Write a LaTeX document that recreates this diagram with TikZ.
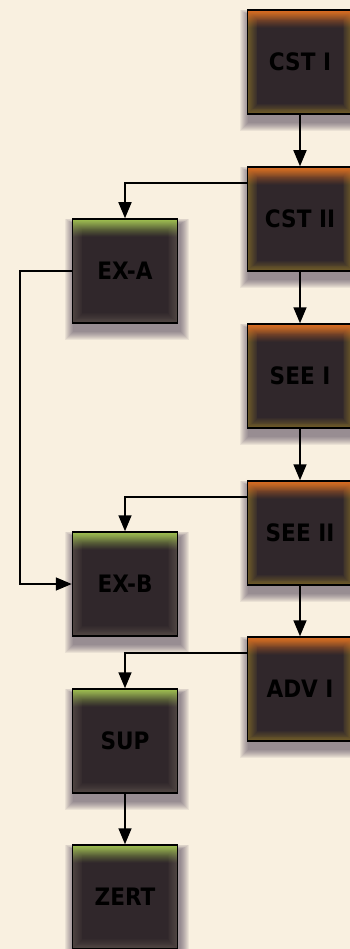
\documentclass[tikz,border=0pt]{standalone}
\usepackage{fontspec}
\setmainfont{DejaVu Sans Condensed}
\usetikzlibrary{arrows.meta,backgrounds}
\definecolor{paper}{RGB}{249,240,224}
\definecolor{boxdark}{RGB}{48,39,43}
\definecolor{topcst}{RGB}{220,108,34}
\definecolor{rimcst}{RGB}{112,92,40}
\definecolor{topex}{RGB}{160,194,80}
\definecolor{rimex}{RGB}{80,70,66}
\definecolor{shadowc}{RGB}{70,58,80}
% inner glow of a box: rim colour #1, top colour #2
\newcommand\stageglow[2]{%
  \foreach \i in {0,...,11}{
    \pgfmathsetmacro\mix{100-\i*100/11}
    \fill[#1!\mix!boxdark] ([shift={(\i*0.9pt,-\i*0.9pt)}]path picture bounding box.north west)
      rectangle ([shift={(-\i*0.9pt,\i*0.9pt)}]path picture bounding box.south east);}
  \foreach \i in {0,...,17}{
    \pgfmathsetmacro\op{(1-\i/18)^1.2}
    \fill[#2,opacity=\op] ([yshift=-\i pt]path picture bounding box.north west)
      rectangle ([yshift=-\i pt-1.05pt]path picture bounding box.north east);}}
% soft shadow below a box
\newcommand\stageshadow[1]{%
  \foreach \i in {1,...,9}
    \fill[shadowc,opacity=0.08] ([shift={(2pt-\i pt,-7pt-\i pt)}]#1.south west)
      rectangle ([shift={(2pt+\i pt,-6pt+0.6*\i pt)}]#1.north east);}
\tikzset{
  stage/.style={draw=black,line width=1.5pt,fill=boxdark,minimum width=105pt,minimum height=104pt,
    inner sep=0pt,font=\bfseries\fontsize{24}{24}\selectfont,text=black},
  corestage/.style={stage,path picture={\stageglow{rimcst}{topcst}}},
  extrastage/.style={stage,path picture={\stageglow{rimex}{topex}}},
  flow/.style={-{Triangle[length=16pt,width=13pt]},line width=1.6pt}
}
\begin{document}
\begin{tikzpicture}
  \useasboundingbox (0,0) rectangle (350pt,-949pt);
  % right column
  \node[corestage] (cst1) at (300pt,-62pt) {CST I};
  \node[corestage] (cst2) at (300pt,-219pt) {CST II};
  \node[corestage] (see1) at (300pt,-376pt) {SEE I};
  \node[corestage] (see2) at (300pt,-533pt) {SEE II};
  \node[corestage] (adv1) at (300pt,-689pt) {ADV I};
  % left column
  \node[extrastage] (exa) at (125pt,-271pt) {EX-A};
  \node[extrastage] (exb) at (125pt,-584pt) {EX-B};
  \node[extrastage] (sup) at (125pt,-741pt) {SUP};
  \node[extrastage] (zert) at (125pt,-897pt) {ZERT};
  % connections
  \draw[flow] (cst1) -- (cst2);
  \draw[flow] (cst2) -- (see1);
  \draw[flow] (see1) -- (see2);
  \draw[flow] (see2) -- (adv1);
  \draw[flow] ([yshift=-17pt]cst2.north west) -| (exa);
  \draw[flow] ([yshift=-17pt]see2.north west) -| (exb);
  \draw[flow] ([yshift=-17pt]adv1.north west) -| (sup);
  \draw[flow] (exa.west) -- ++(-52pt,0) |- (exb.west);
  \draw[flow] (sup) -- (zert);
  \begin{scope}[on background layer]
    \fill[paper] (0,0) rectangle (350pt,-949pt);
    \foreach \n in {cst1,cst2,see1,see2,adv1,exa,exb,sup,zert}
      \stageshadow{\n};
  \end{scope}
\end{tikzpicture}
\end{document}
